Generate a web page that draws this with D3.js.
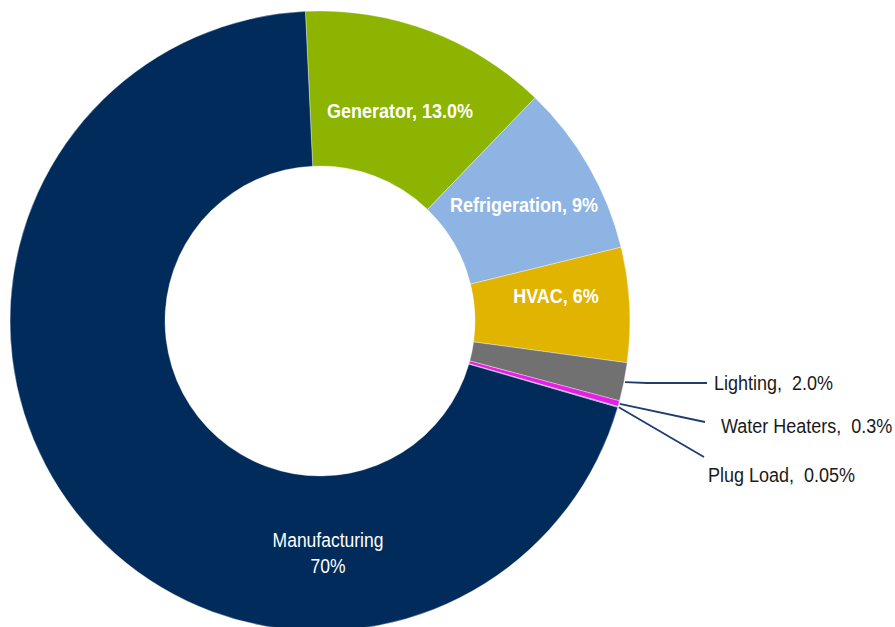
<!DOCTYPE html>
<html><head><meta charset="utf-8">
<script src="https://cdn.jsdelivr.net/npm/d3@7"></script>
<style>body{margin:0;background:#fff}svg{display:block}text{font-family:"Liberation Sans",Arial,sans-serif}</style>
</head><body>
<svg id="c" width="895" height="627"></svg>
<script>
const categories = ["Generator","Refrigeration","HVAC","Lighting","Water Heaters","Plug Load","Manufacturing"];
const values = [13.0, 9, 6, 2.0, 0.3, 0.05, 70];
const labels = ["Generator, 13.0%","Refrigeration, 9%","HVAC, 6%","Lighting,  2.0%","Water Heaters,  0.3%","Plug Load,  0.05%","Manufacturing\n70%"];
const colors = ["#8cb400","#8db4e3","#e0b400","#717171","#e61ee6","#5a7fb0","#002b5a"];

const svg = d3.select("#c");
const cx = 320, cy = 321, R = 310, r = 155;
const SY = 1.14;
const g = svg.append("g").attr("transform",`translate(${cx},${cy})`);
const start = -2.7*Math.PI/180;
const pie = d3.pie().sort(null).value(d=>d.v).startAngle(start).endAngle(start+2*Math.PI);
const data = pie(categories.map((c,i)=>({c,v:values[i],i})));
const arc = d3.arc().innerRadius(r).outerRadius(R);
g.selectAll("path").data(data).join("path")
  .attr("d",arc).attr("fill",d=>colors[d.data.i])
  .attr("stroke","#ffffff").attr("stroke-width",0.6).attr("stroke-opacity",0.6);

function txt(x,y){ return g.append("text").attr("transform",`translate(${x-cx},${y-cy}) scale(1,${SY})`); }

// inside labels
const inside = {
  0:{x:400,y:118}, 1:{x:524,y:212}, 2:{x:556,y:303}
};
Object.entries(inside).forEach(([i,p])=>{
  txt(p.x,p.y).attr("text-anchor","middle")
   .attr("font-size",18).attr("font-weight","bold").attr("fill","#fff").text(labels[i]);
});
// manufacturing
labels[6].split("\n").forEach((s,k)=>{
  txt(328,547+k*26).attr("text-anchor","middle").attr("font-size",17.5).attr("fill","#fff").text(s);
});

// outside labels with leaders
const outside = [
  {i:3, tx:714, ty:390, lx:707, ly:383, frac:0.5},
  {i:4, tx:721, ty:433, lx:705, ly:422, frac:0.5},
  {i:5, tx:708, ty:482, lx:704, ly:457, frac:0.5}
];
outside.forEach(o=>{
  const d = data[o.i];
  const a = d.startAngle + (d.endAngle-d.startAngle)*o.frac;
  const rr = R+1;
  const sx = rr*Math.sin(a), sy = -rr*Math.cos(a);
  let pts;
  if (o.i===3) pts = [[sx,sy],[o.lx-cx-60,o.ly-cy],[o.lx-cx,o.ly-cy]];
  else pts = [[sx,sy],[o.lx-cx,o.ly-cy]];
  g.append("path").attr("d",d3.line()(pts)).attr("fill","none")
   .attr("stroke","#1f3d6e").attr("stroke-width",1.8);
  txt(o.tx,o.ty).attr("font-size",18)
   .attr("fill","#1a1a1a").style("white-space","pre").text(labels[o.i]);
});
</script>
</body></html>
